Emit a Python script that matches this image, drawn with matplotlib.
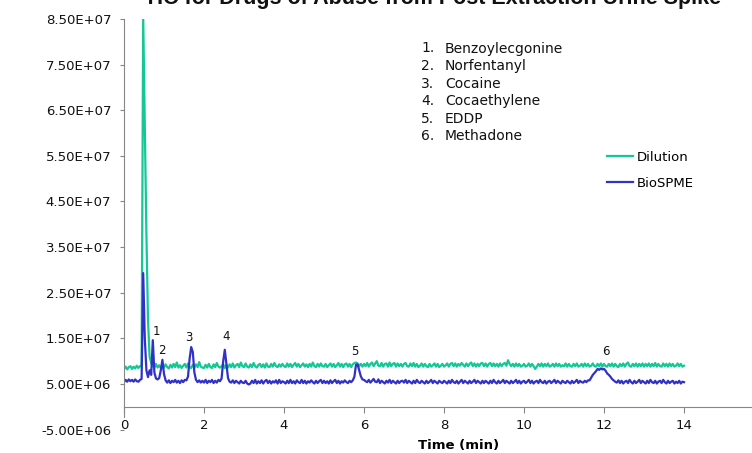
import numpy as np
import matplotlib
matplotlib.use("Agg")
import matplotlib.pyplot as plt
from matplotlib.ticker import FixedLocator, FuncFormatter

# ---------------- data (signal intensity in millions of counts) ----------------
title = "TIC for Drugs of Abuse from Post Extraction Urine Spike"
x_label = "Time (min)"
series_names = ["Dilution", "BioSPME"]
sample_step_min = 0.04  # sampling interval of both traces

dilution_mcounts = [
    8.3, 8.8, 8.2, 8.7, 8.9, 8.3, 8.8, 8.4, 9.0, 8.5, 8.9, 9.1, 85.5, 62.0, 38.0, 19.0, 11.0, 9.6, 8.9, 8.6, 9.4, 8.6, 9.1, 8.5, 9.0,
    8.6, 9.3, 8.7, 8.4, 9.2, 8.6, 9.4, 8.7, 9.7, 8.6, 9.1, 8.5, 9.0, 9.4, 8.6, 9.5, 8.7, 8.5, 9.2, 8.6, 9.3, 8.7, 9.8, 8.8, 8.6,
    8.5, 9.2, 8.6, 9.4, 8.7, 8.5, 9.3, 8.7, 9.6, 8.8, 8.6, 8.9, 9.3, 8.5, 9.2, 8.6, 9.3, 8.7, 9.5, 8.6, 9.1, 9.4, 8.7, 9.7, 8.9,
    8.7, 9.5, 8.8, 8.6, 9.3, 8.7, 9.6, 8.9, 8.6, 9.2, 9.4, 8.7, 9.3, 8.6, 9.5, 8.8, 8.7, 9.4, 8.8, 9.6, 8.9, 8.7, 9.3, 8.8, 9.4,
    8.9, 8.7, 9.5, 8.8, 9.4, 8.7, 9.2, 9.6, 8.8, 9.4, 8.7, 9.1, 9.5, 8.8, 9.3, 8.7, 9.4, 8.8, 9.7, 8.9, 8.7, 9.4, 8.8, 9.5, 8.9,
    8.8, 9.4, 8.7, 9.1, 9.5, 8.8, 9.4, 8.7, 9.1, 9.6, 8.8, 9.4, 8.7, 9.3, 9.5, 8.8, 9.4, 8.7, 9.3, 9.6, 9.7, 9.5, 8.9, 9.4, 8.8,
    9.4, 8.9, 9.6, 8.8, 9.4, 9.7, 8.9, 9.5, 10.0, 9.0, 8.9, 9.6, 8.8, 9.4, 9.5, 8.8, 9.7, 8.9, 9.4, 9.6, 8.8, 9.5, 8.9, 9.4, 8.8,
    9.4, 9.6, 8.9, 8.8, 9.5, 8.9, 9.6, 8.8, 9.4, 8.7, 9.0, 9.5, 8.8, 9.4, 8.9, 8.7, 9.4, 8.8, 9.1, 9.5, 8.8, 9.4, 8.7, 9.0, 9.4,
    8.8, 9.1, 9.5, 8.8, 9.4, 9.6, 8.9, 9.5, 8.8, 9.4, 9.0, 9.6, 9.2, 8.8, 9.5, 8.9, 9.4, 9.7, 8.9, 9.5, 8.8, 9.4, 8.9, 9.5, 9.6,
    8.9, 9.5, 8.8, 9.4, 9.6, 8.9, 9.5, 8.9, 9.4, 8.8, 9.5, 8.9, 9.4, 9.6, 9.0, 10.2, 9.4, 8.9, 9.4, 8.8, 9.5, 8.9, 9.4, 8.8, 9.0,
    9.4, 8.8, 9.0, 9.5, 8.8, 9.4, 8.9, 8.3, 8.8, 9.4, 8.9, 9.5, 8.8, 9.4, 8.9, 9.5, 8.8, 9.0, 9.4, 8.8, 9.5, 8.9, 9.4, 8.8, 9.1,
    8.9, 9.5, 8.8, 9.4, 8.9, 8.8, 9.4, 8.9, 9.5, 8.8, 9.0, 9.4, 8.8, 9.5, 8.9, 9.4, 8.8, 9.0, 9.5, 8.9, 8.8, 9.4, 8.9, 9.5, 8.8,
    9.4, 8.9, 8.8, 9.4, 8.9, 9.5, 8.8, 9.4, 8.9, 8.7, 9.4, 8.9, 9.5, 8.8, 9.4, 9.7, 8.9, 8.8, 9.4, 8.9, 9.5, 8.8, 9.4, 8.9, 9.5,
    8.8, 9.4, 8.9, 9.5, 8.8, 9.4, 8.9, 9.6, 8.8, 9.4, 8.9, 8.8, 9.5, 8.9, 9.4, 8.8, 9.5, 8.9, 9.4, 8.8, 9.0, 9.5, 8.9, 9.4, 8.8,
    9.0,
]

biospme_mcounts = [
    5.4, 5.9, 5.5, 6.0, 5.6, 5.9, 5.5, 6.0, 5.6, 5.5, 5.9, 6.1, 29.3, 15.0, 8.0, 6.5, 8.0, 7.0, 14.6, 7.5, 6.2, 6.0, 6.3, 8.0, 10.3,
    7.2, 5.8, 5.3, 5.8, 5.2, 5.7, 5.4, 5.9, 5.3, 5.7, 5.2, 5.8, 5.4, 5.9, 5.8, 6.6, 10.5, 13.1, 12.0, 7.5, 5.9, 5.4, 5.8, 5.3, 5.7,
    5.3, 5.9, 5.2, 5.7, 5.4, 5.9, 5.2, 5.7, 5.3, 5.9, 5.6, 6.2, 10.0, 12.5, 9.5, 6.3, 5.5, 5.3, 5.8, 5.2, 5.7, 5.4, 5.1, 5.7, 5.3,
    5.2, 5.7, 5.1, 4.9, 5.1, 5.7, 5.2, 5.9, 5.1, 5.6, 5.2, 5.8, 5.1, 5.6, 5.9, 5.2, 5.7, 5.1, 5.6, 5.3, 5.8, 5.1, 5.9, 5.2, 5.6,
    5.4, 5.1, 5.7, 5.2, 5.9, 5.2, 5.6, 5.1, 5.8, 5.4, 5.2, 5.9, 5.2, 5.7, 5.1, 5.6, 5.3, 5.8, 5.4, 5.1, 5.7, 5.2, 5.6, 5.9, 5.2,
    5.7, 5.2, 5.6, 5.1, 5.8, 5.2, 5.6, 5.9, 5.2, 5.7, 5.1, 5.6, 5.3, 5.8, 5.4, 5.2, 5.7, 5.4, 5.8, 6.6, 9.2, 9.3, 8.0, 6.7, 6.0,
    5.9, 5.6, 5.4, 5.9, 5.3, 5.7, 6.1, 5.5, 5.4, 6.0, 5.2, 5.7, 5.4, 5.1, 5.7, 5.3, 5.9, 5.2, 5.7, 5.4, 5.1, 5.7, 5.2, 5.6, 5.7,
    5.3, 5.9, 5.2, 5.7, 5.4, 5.1, 5.7, 5.2, 5.9, 5.4, 5.2, 5.7, 5.4, 5.1, 5.7, 5.2, 5.5, 5.9, 5.2, 5.7, 5.4, 5.1, 5.7, 5.4, 5.2,
    5.7, 5.4, 5.1, 5.7, 5.2, 5.9, 5.4, 5.2, 5.7, 5.1, 5.5, 5.9, 5.2, 5.7, 5.4, 5.1, 5.7, 5.2, 5.5, 5.9, 5.2, 5.7, 5.4, 5.1, 5.7,
    5.2, 5.7, 5.4, 5.1, 5.7, 5.2, 5.9, 5.4, 5.1, 5.7, 5.2, 5.5, 5.9, 5.2, 5.7, 5.4, 5.1, 5.7, 5.2, 5.5, 5.9, 5.2, 5.7, 5.1, 5.5,
    5.7, 5.2, 5.5, 5.9, 5.2, 5.7, 5.1, 5.5, 5.7, 5.2, 5.9, 5.4, 5.2, 5.7, 5.1, 5.5, 5.7, 5.2, 5.5, 5.9, 5.2, 5.7, 5.4, 5.1, 5.7,
    5.4, 5.2, 5.7, 5.4, 5.1, 5.7, 5.2, 5.5, 5.9, 5.2, 5.7, 5.4, 5.3, 5.7, 5.4, 5.8, 5.8, 6.4, 7.0, 7.4, 7.8, 8.3, 8.1, 8.4, 8.2,
    8.3, 7.9, 7.3, 7.0, 6.6, 6.1, 5.8, 5.5, 5.3, 5.8, 5.2, 5.7, 5.1, 5.5, 5.7, 5.2, 5.9, 5.4, 5.1, 5.7, 5.2, 5.5, 5.9, 5.2, 5.7,
    5.4, 5.1, 5.7, 5.2, 5.9, 5.4, 5.2, 5.7, 5.1, 5.5, 5.7, 5.2, 5.9, 5.4, 5.1, 5.7, 5.2, 5.5, 5.7, 5.1, 5.5, 5.2, 5.7, 5.1, 5.5,
    5.4,
]

# peak annotations
peak_labels = ["1", "2", "3", "4", "5", "6"]
peak_label_time = [0.80, 0.95, 1.62, 2.55, 5.77, 12.05]
peak_label_mcounts = [16.6, 12.3, 15.1, 15.3, 12.1, 12.1]

# compound key
compound_numbers = ["1.", "2.", "3.", "4.", "5.", "6."]
compound_names = ["Benzoylecgonine", "Norfentanyl", "Cocaine", "Cocaethylene", "EDDP", "Methadone"]

# axes ticks
y_ticks = [-5e6, 5e6, 1.5e7, 2.5e7, 3.5e7, 4.5e7, 5.5e7, 6.5e7, 7.5e7, 8.5e7]
x_ticks = [0, 2, 4, 6, 8, 10, 12, 14]

# ---------------- styling ----------------
W, H = 752, 453
colors = ["#14C895", "#3131C8"]
axis_gray = "#868686"


def fx(px):
    return px / W


def fy(py):
    return 1 - py / H


fig = plt.figure(figsize=(W / 100, H / 100), dpi=100)
ax_left, ax_right = 124, 752
ax_top, ax_bottom = 19, 429.6
ax = fig.add_axes([fx(ax_left), fy(ax_bottom), (ax_right - ax_left) / W, (ax_bottom - ax_top) / H])

series_values = [dilution_mcounts, biospme_mcounts]
handles = []
for name, vals, col in zip(series_names, series_values, colors):
    v = np.asarray(vals) * 1e6
    t = np.round(np.arange(len(v)) * sample_step_min, 2)
    h, = ax.plot(t, v, color=col, lw=1.6, label=name, solid_joinstyle="round")
    handles.append(h)

ax.set_xlim(0, (ax_right - ax_left) / 40.0)
ax.set_ylim(-5e6, 8.5e7)

for s in ["top", "right"]:
    ax.spines[s].set_visible(False)
ax.spines["bottom"].set_position(("data", 0))
ax.spines["left"].set_bounds(-2.2e6, 8.5e7)
for s in ["bottom", "left"]:
    ax.spines[s].set_color(axis_gray)
    ax.spines[s].set_linewidth(0.8)

ax.yaxis.set_major_locator(FixedLocator(y_ticks))
ax.yaxis.set_major_formatter(FuncFormatter(lambda v, p: f"{v:.2E}"))
ax.xaxis.set_major_locator(FixedLocator(x_ticks))
ax.tick_params(axis="y", direction="out", length=3.2, width=0.8, color=axis_gray,
               labelsize=9.5, pad=6, labelcolor="#111111")
ax.tick_params(axis="x", direction="out", length=4.3, width=0.8, color=axis_gray,
               labelsize=9.5, pad=4.5, labelcolor="#111111")

ax.set_xlabel(x_label, fontsize=9.5, fontweight="bold", va="center")
ax.xaxis.set_label_coords((459 - ax_left) / (ax_right - ax_left), (ax_bottom - 445) / (ax_bottom - ax_top))

for lab, t, m in zip(peak_labels, peak_label_time, peak_label_mcounts):
    ax.text(t, m * 1e6, lab, ha="center", va="center", fontsize=8.5, color="#111111")

# title (partially cut off at the top, as in the reference)
fig.text(fx(432.5), fy(4), title, ha="center", va="baseline", fontsize=15.5,
         fontweight="bold", family="Liberation Sans", color="#111111")

# compound key
for i, (num, name) in enumerate(zip(compound_numbers, compound_names)):
    yb = 52.5 + i * 17.6
    fig.text(fx(421), fy(yb), num, ha="left", va="baseline", fontsize=10, color="#111111")
    fig.text(fx(445), fy(yb), name, ha="left", va="baseline", fontsize=10, color="#111111")

fig.legend(handles=handles, loc="upper left", bbox_to_anchor=(fx(607), fy(151)),
           frameon=False, fontsize=9.5, handlelength=2.0, handletextpad=0.25,
           labelspacing=0.95, borderpad=0, borderaxespad=0)

fig.savefig("out.png", dpi=100)
